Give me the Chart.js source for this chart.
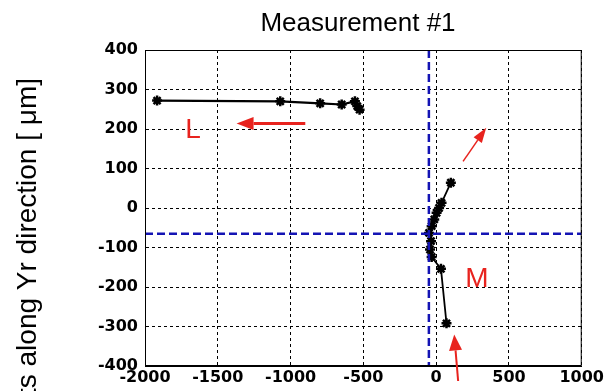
<!DOCTYPE html>
<html>
<head>
<meta charset="utf-8">
<script src="https://cdn.jsdelivr.net/npm/chart.js@4/dist/chart.umd.min.js"></script>
<style>
html,body{margin:0;padding:0;background:#fff;}
#wrap{width:606px;height:391px;position:relative;}
</style>
</head>
<body>
<div id="wrap"><canvas id="c" width="606" height="391"></canvas></div>
<script>
// ---- data ----
const titleText = "Measurement #1";
const yAxisLabel = "Displacements along Yr direction [ μm]";
const xTicks = [-2000, -1500, -1000, -500, 0, 500, 1000];
const yTicks = [400, 300, 200, 100, 0, -100, -200, -300, -400];
// L trajectory (moves left)
const lX = [-526, -542, -558, -649, -797, -1071, -1917];
const lY = [249, 258, 270, 262, 265, 270, 272];
// M trajectory (moves up)
const mX = [71, 33, -31, -42, -35, -49, -31, -13, 3, 20, 37, 101];
const mY = [-292, -154, -124, -105, -84, -63, -46, -29, -12, 0, 13, 64];
// reference (blue dashed) lines
const refX = -50;
const refY = -65;
// annotations (data coordinates)
const labelL = {text: "L", x: -1724, y: 176};
const labelM = {text: "M", x: 199, y: -201};
const arrowL = {x1: -899, y1: 214, x2: -1371, y2: 214};
const arrowUp = {x1: 185, y1: 118, x2: 344, y2: 203};
const arrowBottom = {x1: 151, y1: -438, x2: 124, y2: -320};

const toPts = (xs, ys) => xs.map((x, i) => ({x: x, y: ys[i]}));

function drawArrow(ctx, x1, y1, x2, y2, lw, headLen, headW, color) {
  const ang = Math.atan2(y2 - y1, x2 - x1);
  const bx = x2 - headLen * Math.cos(ang), by = y2 - headLen * Math.sin(ang);
  ctx.save();
  ctx.strokeStyle = color; ctx.fillStyle = color; ctx.lineWidth = lw;
  ctx.beginPath(); ctx.moveTo(x1, y1); ctx.lineTo(bx, by); ctx.stroke();
  ctx.beginPath();
  ctx.moveTo(x2, y2);
  ctx.lineTo(bx + headW / 2 * Math.sin(ang), by - headW / 2 * Math.cos(ang));
  ctx.lineTo(bx - headW / 2 * Math.sin(ang), by + headW / 2 * Math.cos(ang));
  ctx.closePath(); ctx.fill();
  ctx.restore();
}

const deco = {
  id: 'deco',
  afterDatasetsDraw(chart) {
    const {ctx, chartArea: a, scales: {x, y}} = chart;
    ctx.save();
    ctx.beginPath(); ctx.rect(a.left, a.top, a.right - a.left, a.bottom - a.top); ctx.clip();
    ctx.strokeStyle = '#1414b4'; ctx.lineWidth = 2.5; ctx.setLineDash([8, 4]);
    const px = x.getPixelForValue(refX), py = y.getPixelForValue(refY);
    ctx.beginPath(); ctx.moveTo(px, a.top); ctx.lineTo(px, a.bottom); ctx.stroke();
    ctx.beginPath(); ctx.moveTo(a.left, py); ctx.lineTo(a.right, py); ctx.stroke();
    ctx.restore();
  },
  afterDraw(chart) {
    const {ctx, chartArea: a, scales: {x, y}} = chart;
    ctx.save();
    // frame
    ctx.strokeStyle = '#000'; ctx.lineWidth = 1; ctx.setLineDash([]);
    ctx.strokeRect(a.left + 0.5, a.top + 0.5, a.right - a.left - 1, a.bottom - a.top - 1);
    // title
    ctx.fillStyle = '#000';
    ctx.font = '26px "Liberation Sans", Arial, sans-serif';
    ctx.textAlign = 'center'; ctx.textBaseline = 'alphabetic';
    ctx.fillText(titleText, 358, 31);
    // y label
    ctx.save();
    ctx.translate(36, 78); ctx.rotate(-Math.PI / 2);
    ctx.font = '28px "Liberation Sans", Arial, sans-serif';
    ctx.textAlign = 'right';
    ctx.fillText(yAxisLabel, 0, 0);
    ctx.restore();
    // red annotations
    const red = '#e8231e';
    ctx.fillStyle = red;
    ctx.font = '28px "Liberation Sans", Arial, sans-serif';
    ctx.textAlign = 'left';
    ctx.fillText(labelL.text, x.getPixelForValue(labelL.x), y.getPixelForValue(labelL.y));
    ctx.fillText(labelM.text, x.getPixelForValue(labelM.x), y.getPixelForValue(labelM.y));
    const ar = (o, lw, hl, hw) => drawArrow(ctx, x.getPixelForValue(o.x1), y.getPixelForValue(o.y1),
      x.getPixelForValue(o.x2), y.getPixelForValue(o.y2), lw, hl, hw, red);
    ar(arrowL, 3, 17, 13);
    ar(arrowUp, 1.5, 15, 10);
    ar(arrowBottom, 2, 16, 13);
    ctx.restore();
  }
};

const tickFont = {family: '"DejaVu Sans", sans-serif', size: 16, weight: 'bold'};
const gridOpts = {color: '#000', lineWidth: 1, drawTicks: false};

new Chart(document.getElementById('c'), {
  type: 'scatter',
  data: {
    datasets: [
      {data: toPts(lX, lY), showLine: true, borderColor: '#000', backgroundColor: '#000',
       borderWidth: 2.2, pointStyle: 'star', pointRadius: 5, pointBorderWidth: 2.5},
      {data: toPts(mX, mY), showLine: true, borderColor: '#000', backgroundColor: '#000',
       borderWidth: 1.8, pointStyle: 'star', pointRadius: 5, pointBorderWidth: 2.5}
    ]
  },
  options: {
    responsive: false,
    animation: false,
    layout: {padding: {top: 50, right: 22, left: 0, bottom: 0}},
    plugins: {legend: {display: false}, tooltip: {enabled: false}, title: {display: false}},
    scales: {
      x: {
        type: 'linear', min: xTicks[0], max: xTicks[xTicks.length - 1],
        afterBuildTicks: s => { s.ticks = xTicks.map(v => ({value: v})); },
        afterFit: s => { s.height = 25; },
        grid: {...gridOpts},
        border: {display: true, color: '#000', dash: [3, 3]},
        ticks: {color: '#000', font: tickFont, padding: 2, maxRotation: 0, autoSkip: false,
                callback: v => String(v)}
      },
      y: {
        type: 'linear', min: yTicks[yTicks.length - 1], max: yTicks[0],
        afterBuildTicks: s => { s.ticks = yTicks.slice().reverse().map(v => ({value: v})); },
        afterFit: s => { s.width = 145; },
        grid: {...gridOpts},
        border: {display: true, color: '#000', dash: [3, 3]},
        ticks: {color: '#000', font: tickFont, padding: 7, autoSkip: false,
                callback: v => String(v)}
      }
    }
  },
  plugins: [deco]
});
</script>
</body>
</html>
